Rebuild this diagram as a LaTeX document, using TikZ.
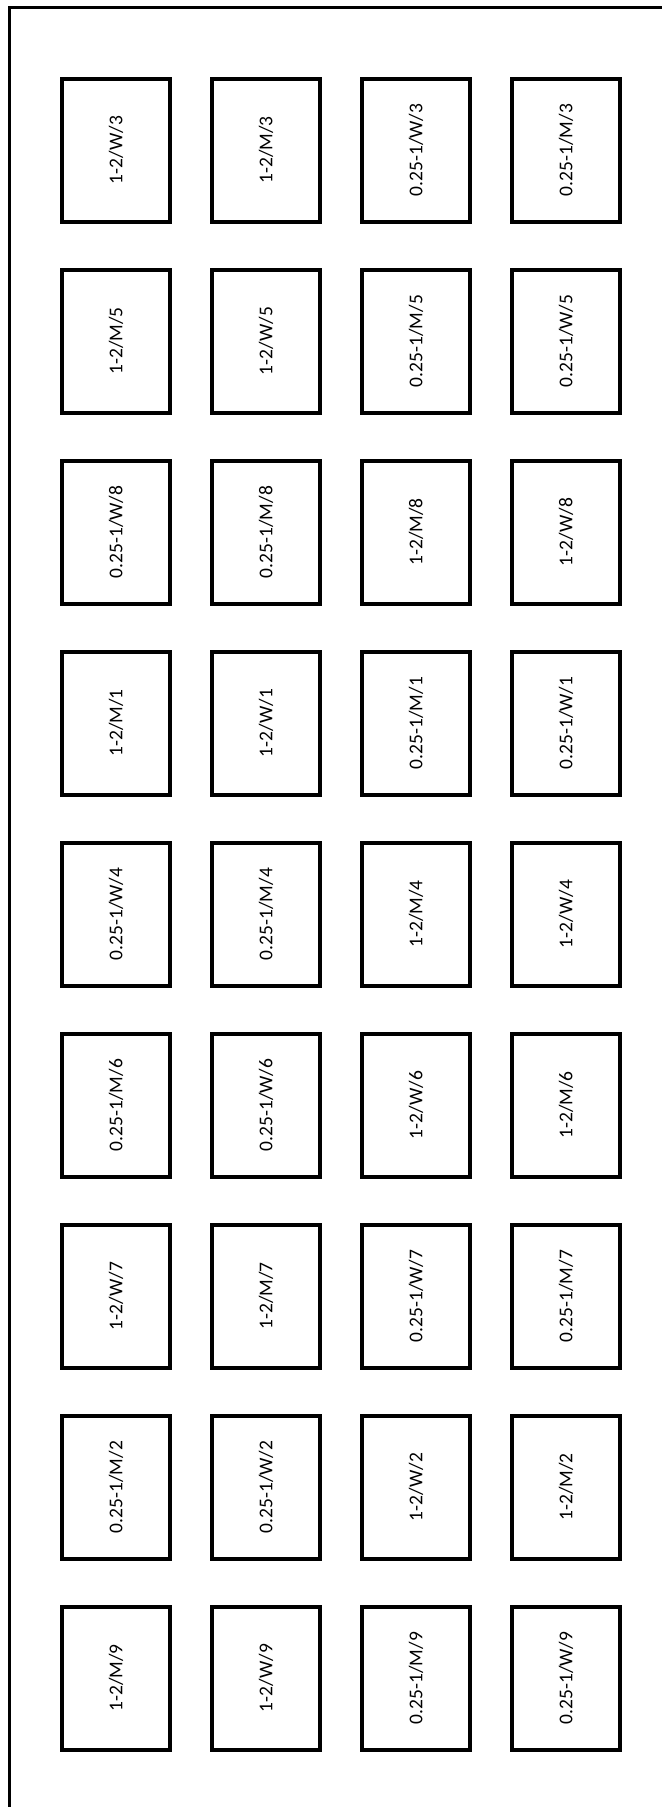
\documentclass[tikz,border=0pt]{standalone}
\usepackage{fontspec}
\setmainfont{Carlito}
\begin{document}
\begin{tikzpicture}[x=1pt,y=-1pt,
  cell/.style={draw=black,line width=4pt,rotate=90,minimum width=143pt,minimum height=108pt,inner sep=0pt,font=\fontsize{19.5pt}{22pt}\selectfont},
  frame/.style={draw=black,line width=3pt}]
\useasboundingbox (0,0) rectangle (662,1807);
\draw[frame] (9.5,1807) coordinate (fb) -- (9.5,7.5) coordinate (fc) -- (662,7.5) coordinate (fr);
\foreach \row/\a/\b/\c/\d in {
 0/1-2\slash W\slash 3/1-2\slash M\slash 3/0.25-1\slash W\slash 3/0.25-1\slash M\slash 3,
 1/1-2\slash M\slash 5/1-2\slash W\slash 5/0.25-1\slash M\slash 5/0.25-1\slash W\slash 5,
 2/0.25-1\slash W\slash 8/0.25-1\slash M\slash 8/1-2\slash M\slash 8/1-2\slash W\slash 8,
 3/1-2\slash M\slash 1/1-2\slash W\slash 1/0.25-1\slash M\slash 1/0.25-1\slash W\slash 1,
 4/0.25-1\slash W\slash 4/0.25-1\slash M\slash 4/1-2\slash M\slash 4/1-2\slash W\slash 4,
 5/0.25-1\slash M\slash 6/0.25-1\slash W\slash 6/1-2\slash W\slash 6/1-2\slash M\slash 6,
 6/1-2\slash W\slash 7/1-2\slash M\slash 7/0.25-1\slash W\slash 7/0.25-1\slash M\slash 7,
 7/0.25-1\slash M\slash 2/0.25-1\slash W\slash 2/1-2\slash W\slash 2/1-2\slash M\slash 2,
 8/1-2\slash M\slash 9/1-2\slash W\slash 9/0.25-1\slash M\slash 9/0.25-1\slash W\slash 9}{
  \node[cell] (r\row c1) at (116,150+191*\row) {\a};
  \node[cell] (r\row c2) at (266,150+191*\row) {\b};
  \node[cell] (r\row c3) at (416,150+191*\row) {\c};
  \node[cell] (r\row c4) at (566,150+191*\row) {\d};
}
\end{tikzpicture}
\end{document}
